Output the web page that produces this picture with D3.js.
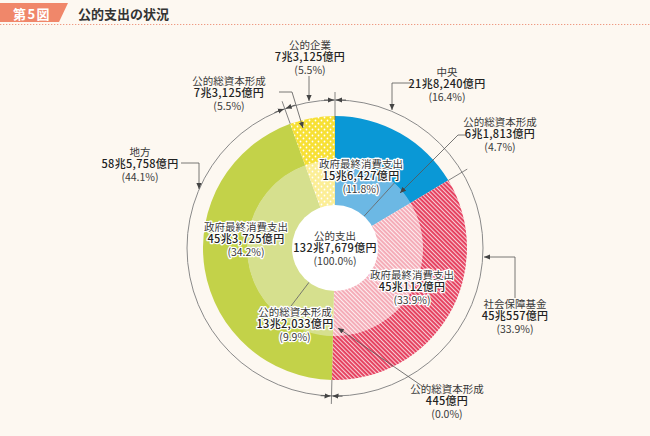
<!DOCTYPE html>
<html><head><meta charset="utf-8">
<script src="https://cdn.jsdelivr.net/npm/d3@7"></script>
<style>
body{margin:0;background:#fdf8f1}
svg{display:block}
text{font-family:"Noto Sans CJK JP","Noto Sans",sans-serif}
</style>
</head><body>
<svg id="c" width="650" height="436"></svg>
<script>
// ---- data ----
const outerNames  = ["中央", "社会保障基金", "地方", "公的企業"];
const outerValues = [218240, 450557, 585758, 73125];          // 億円
const outerAmount = ["21兆8,240億円", "45兆557億円", "58兆5,758億円", "7兆3,125億円"];
const outerPct    = ["(16.4%)", "(33.9%)", "(44.1%)", "(5.5%)"];

const innerNames  = ["政府最終消費支出", "公的総資本形成", "政府最終消費支出", "公的総資本形成", "公的総資本形成", "政府最終消費支出", "公的総資本形成"];
const innerParent = [0, 0, 1, 1, 2, 2, 3];
const innerValues = [156427, 61813, 450112, 445, 132033, 453725, 73125];
const innerAmount = ["15兆6,427億円", "6兆1,813億円", "45兆112億円", "445億円", "13兆2,033億円", "45兆3,725億円", "7兆3,125億円"];
const innerPct    = ["(11.8%)", "(4.7%)", "(33.9%)", "(0.0%)", "(9.9%)", "(34.2%)", "(5.5%)"];

const totalName   = "公的支出";
const totalAmount = "132兆7,679億円";
const totalPct    = "(100.0%)";

const titleNo = "第5図";
const titleText = "公的支出の状況";

// ---- layout ----
const W = 650, H = 436, cx = 335, cy = 248;
const rCenter = 43, rInner = 88, rOuter = 132, rRing = 148;

const svg = d3.select("#c");
svg.append("rect").attr("width", W).attr("height", H).attr("fill", "#fdf8f1");

const defs = svg.append("defs");
function hatch(id, bg, lineCol, op) {
  const p = defs.append("pattern").attr("id", id).attr("patternUnits", "userSpaceOnUse")
    .attr("width", 3).attr("height", 3).attr("patternTransform", "rotate(-45)");
  p.append("rect").attr("width", 3).attr("height", 3).attr("fill", bg);
  p.append("rect").attr("width", 1.1).attr("height", 3).attr("fill", lineCol).attr("opacity", op);
}
hatch("hatchR", "#e53c5b", "#ffffff", 0.75);
hatch("hatchP", "#f4a9b5", "#ffffff", 0.8);
function dots(id, bg) {
  const p = defs.append("pattern").attr("id", id).attr("patternUnits", "userSpaceOnUse")
    .attr("width", 6).attr("height", 6);
  p.append("rect").attr("width", 6).attr("height", 6).attr("fill", bg);
  p.append("circle").attr("cx", 1.5).attr("cy", 1.5).attr("r", 0.9).attr("fill", "#fff");
  p.append("circle").attr("cx", 4.5).attr("cy", 4.5).attr("r", 0.9).attr("fill", "#fff");
}
dots("dotsY", "#f7e034");
dots("dotsY2", "#fcee96");
defs.append("marker").attr("id", "arr").attr("viewBox", "0 -3 6 6")
  .attr("refX", 6).attr("refY", 0).attr("markerWidth", 6).attr("markerHeight", 6)
  .attr("markerUnits", "userSpaceOnUse").attr("orient", "auto")
  .append("path").attr("d", "M0,-2.6L6,0L0,2.6Z").attr("fill", "#444");

const outerFill = ["#0a98d6", "url(#hatchR)", "#c3d249", "url(#dotsY)"];
const innerFill = ["#6cb8e4", "url(#hatchP)", "#d6e08e", "url(#dotsY2)"];

// ---- title ----
svg.append("polygon").attr("points", "0,3 68,3 59,22 0,22").attr("fill", "#f0876a");
svg.append("text").attr("x", 32).attr("y", 13).attr("text-anchor", "middle")
  .attr("dominant-baseline", "central").attr("fill", "#fff").attr("font-size", 13)
  .attr("font-weight", 700).attr("letter-spacing", 1.5).text(titleNo);
svg.append("text").attr("x", 78).attr("y", 13).attr("dominant-baseline", "central")
  .attr("fill", "#333").attr("font-size", 13).attr("font-weight", 700).text(titleText);
svg.append("line").attr("x1", 0).attr("x2", W).attr("y1", 24.5).attr("y2", 24.5)
  .attr("stroke", "#ef9a82").attr("stroke-width", 1.2).attr("stroke-dasharray", "1.3,1.7");

// ---- pies ----
const pie = d3.pie().sort(null).value(d => d);
const outerArcs = pie(outerValues);
const innerArcs = pie(innerValues);
const g = svg.append("g").attr("transform", `translate(${cx},${cy})`);

g.append("circle").attr("r", rRing).attr("fill", "none").attr("stroke", "#8a8a8a").attr("stroke-width", 1);

const arcOuter = d3.arc().innerRadius(rInner - 0.5).outerRadius(rOuter);
const arcInner = d3.arc().innerRadius(rCenter - 1).outerRadius(rInner);
g.selectAll("path.o").data(outerArcs).join("path").attr("class", "o")
  .attr("d", arcOuter).attr("fill", (d, i) => outerFill[i]);
g.selectAll("path.i").data(innerArcs).join("path").attr("class", "i")
  .attr("d", arcInner).attr("fill", (d, i) => innerFill[innerParent[i]]);

const pol = (a, r) => [r * Math.sin(a), -r * Math.cos(a)];

// dividers inside inner ring (between sub-items of the same sector)
innerArcs.forEach((d, i) => {
  if (i < innerArcs.length - 1 && innerParent[i] === innerParent[i + 1] && i !== 2) {
    const a = d.endAngle, p1 = pol(a, rCenter), p2 = pol(a, rInner);
    g.append("line").attr("x1", p1[0]).attr("y1", p1[1]).attr("x2", p2[0]).attr("y2", p2[1])
      .attr("stroke", "#5a5a5a").attr("stroke-width", 0.8);
  }
});

g.append("circle").attr("r", rCenter).attr("fill", "#fff");

// boundary extensions beyond the pie
const bounds = [0].concat(outerArcs.map(d => d.endAngle).slice(0, 3));
bounds.forEach((a, k) => {
  const p1 = pol(a, rOuter - (k === 0 ? 4 : 0)), p2 = pol(a, k === 1 ? 154 : 156);
  g.append("line").attr("x1", p1[0]).attr("y1", p1[1]).attr("x2", p2[0]).attr("y2", p2[1])
    .attr("stroke", "#666").attr("stroke-width", 0.8);
});
// →|← marks on the ring
[0, outerArcs[1].endAngle, outerArcs[2].endAngle].forEach(a => {
  const p = pol(a, rRing), t = [Math.cos(a), Math.sin(a)];
  [-1, 1].forEach(s => {
    g.append("line")
      .attr("x1", p[0] + s * t[0] * 11).attr("y1", p[1] + s * t[1] * 11)
      .attr("x2", p[0] + s * t[0] * 1).attr("y2", p[1] + s * t[1] * 1)
      .attr("stroke", "#444").attr("stroke-width", 0.8).attr("marker-end", "url(#arr)");
  });
});

// ---- leaders ----
const leaders = [
  [[309, 76], [309, 101]],
  [[279, 92], [292, 92], [303, 128]],
  [[413, 83], [392, 83], [392, 110]],
  [[466, 135], [458, 135], [400, 193]],
  [[181, 163], [199, 163], [199, 189]],
  [[515, 298], [515, 257], [484, 257]],
  [[422, 386], [338, 328]]
];
const line = d3.line();
leaders.forEach(pts => {
  svg.append("path").attr("d", line(pts)).attr("fill", "none")
    .attr("stroke", "#555").attr("stroke-width", 0.8).attr("marker-end", "url(#arr)");
});

// ---- labels (one text element per label, lines as tspans) ----
function label(x, y, lines, halo) {
  const t = svg.append("text").attr("text-anchor", "middle");
  if (halo) t.attr("stroke", "#fff").attr("stroke-width", 2.6)
    .attr("stroke-linejoin", "round").attr("paint-order", "stroke");
  lines.forEach((s, k) => {
    t.append("tspan").attr("x", x).attr("y", y + (k - 1) * 12.5 + 4)
      .attr("font-size", k === 1 ? 11 : 10.5)
      .attr("font-weight", k === 1 ? 500 : 400)
      .attr("fill", k === 1 ? "#222" : "#3a3a3a")
      .attr("letter-spacing", k === 1 ? 0.3 : 0)
      .text(s);
  });
}
const LO = i => [outerNames[i], outerAmount[i], outerPct[i]];
const LI = i => [innerNames[i], innerAmount[i], innerPct[i]];
label(310, 57, LO(3), false);
label(229, 93, LI(6), false);
label(447, 84, LO(0), false);
label(500, 134, LI(1), false);
label(140, 164, LO(2), false);
label(361, 176, LI(0), true);
label(335, 248, [totalName, totalAmount, totalPct], false);
label(246, 239, LI(5), true);
label(412, 287, LI(2), true);
label(295, 324, LI(4), true);
label(515, 316, LO(1), false);
label(447, 401, LI(3), false);
</script>
</body></html>
